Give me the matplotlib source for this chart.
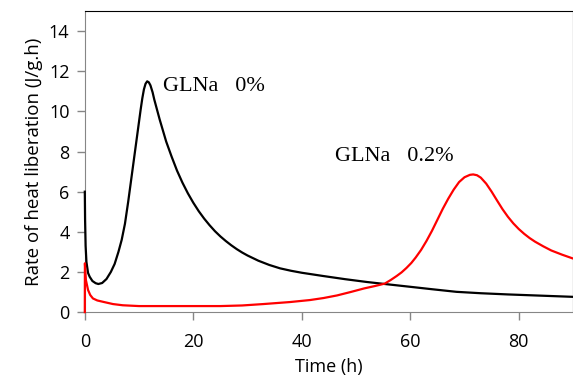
import matplotlib.pyplot as plt

# GLNa 0% (black curve)
t_black = [0, 0.05, 0.15, 0.3, 0.6, 0.9, 1.4, 2.0, 2.5, 3.2, 4.0, 4.8, 5.5, 6.2, 6.8,
           7.4, 8.0, 8.4, 8.8, 9.2, 9.6, 10.0, 10.3, 10.6, 10.9, 11.2, 11.5, 11.8,
           12.1, 12.5, 12.8, 13.3, 13.8, 14.4, 15.0, 16.0, 17.0, 18.0, 19.0, 20.0,
           21.0, 22.0, 23.0, 24.0, 25.0, 26.0, 27.0, 28.0, 29.0, 30.0, 32.0, 34.0,
           36.0, 38.0, 40.0, 43.9, 48.0, 52.0, 55.3, 60.0, 64.0, 68.5, 73.0, 78.0,
           84.0, 90.0]
v_black = [6.0, 4.6, 3.3, 2.5, 1.95, 1.76, 1.55, 1.44, 1.4, 1.45, 1.65, 2.0, 2.4, 3.0, 3.6,
           4.4, 5.5, 6.3, 7.1, 7.9, 8.7, 9.5, 10.1, 10.65, 11.1, 11.38, 11.5, 11.45,
           11.3, 10.95, 10.6, 10.1, 9.6, 9.05, 8.5, 7.75, 7.05, 6.45, 5.92, 5.45,
           5.03, 4.66, 4.33, 4.03, 3.77, 3.54, 3.33, 3.14, 2.97, 2.82, 2.56, 2.35,
           2.18, 2.06, 1.96, 1.8, 1.64, 1.5, 1.4, 1.26, 1.14, 1.01, 0.94, 0.88,
           0.82, 0.76]

# GLNa 0.2% (red curve)
t_red = [0, 0.02, 0.2, 0.6, 1.0, 1.5, 2.3, 3.4, 5.2, 7.0, 10.0, 20.0, 25.0, 29.0,
         32.9, 37.8, 41.5, 44.0, 46.5, 49.0, 51.5, 53.5, 55.3, 56.4, 57.5, 58.4, 59.3,
         60.2, 61.0, 62.0, 63.0, 64.0, 65.0, 66.0, 67.0, 68.0, 69.0, 70.0, 71.0,
         71.6, 72.3, 73.0, 74.0, 75.0, 76.0, 77.0, 78.0, 79.0, 80.0, 81.0, 82.0,
         83.0, 84.5, 86.0, 88.0, 90.0]
v_red = [0.0, 2.43, 1.6, 1.1, 0.85, 0.68, 0.58, 0.51, 0.4, 0.34, 0.3, 0.3, 0.3, 0.33,
         0.4, 0.5, 0.6, 0.7, 0.83, 1.0, 1.18, 1.3, 1.42, 1.6, 1.8, 1.98, 2.2,
         2.45, 2.72, 3.1, 3.55, 4.05, 4.6, 5.15, 5.65, 6.1, 6.48, 6.72, 6.84,
         6.86, 6.82, 6.7, 6.4, 6.0, 5.56, 5.13, 4.75, 4.42, 4.14, 3.9, 3.69,
         3.51, 3.28, 3.07, 2.86, 2.67]

tick_font = 'Open Sans'

fig = plt.figure(figsize=(5.73, 3.82), dpi=100)
ax = fig.add_axes([0.148, 0.183, 0.852, 0.788])

ax.plot(t_black, v_black, color='black', linewidth=1.6, clip_on=False, zorder=3)
ax.plot(t_red, v_red, color='#ff0000', linewidth=1.6, clip_on=False, zorder=3)

ax.set_xlim(0, 90)
ax.set_ylim(0, 15)
ax.set_xticks([0, 20, 40, 60, 80])
ax.set_yticks([0, 2, 4, 6, 8, 10, 12, 14])

for lab in ax.get_xticklabels() + ax.get_yticklabels():
    lab.set_family(tick_font)
    lab.set_fontsize(13)
ax.tick_params(direction='out', length=6, width=1, color='#868686')
ax.tick_params(axis='x', pad=9)
ax.tick_params(axis='y', pad=5)

ax.spines['left'].set_color('#868686')
ax.spines['bottom'].set_color('#868686')
ax.spines['top'].set_color('black')
ax.spines['right'].set_color('black')

ax.set_xlabel('Time (h)', family=tick_font, fontsize=13, labelpad=5)
ax.set_ylabel('Rate of heat liberation (J/g.h)', family=tick_font, fontsize=13.5, labelpad=4)

ax.text(14.5, 11.25, 'GLNa   0%', family='Liberation Serif', fontsize=16, va='center')
ax.text(46.1, 7.75, 'GLNa   0.2%', family='Liberation Serif', fontsize=16, va='center')

fig.savefig('out.png', dpi=100)
